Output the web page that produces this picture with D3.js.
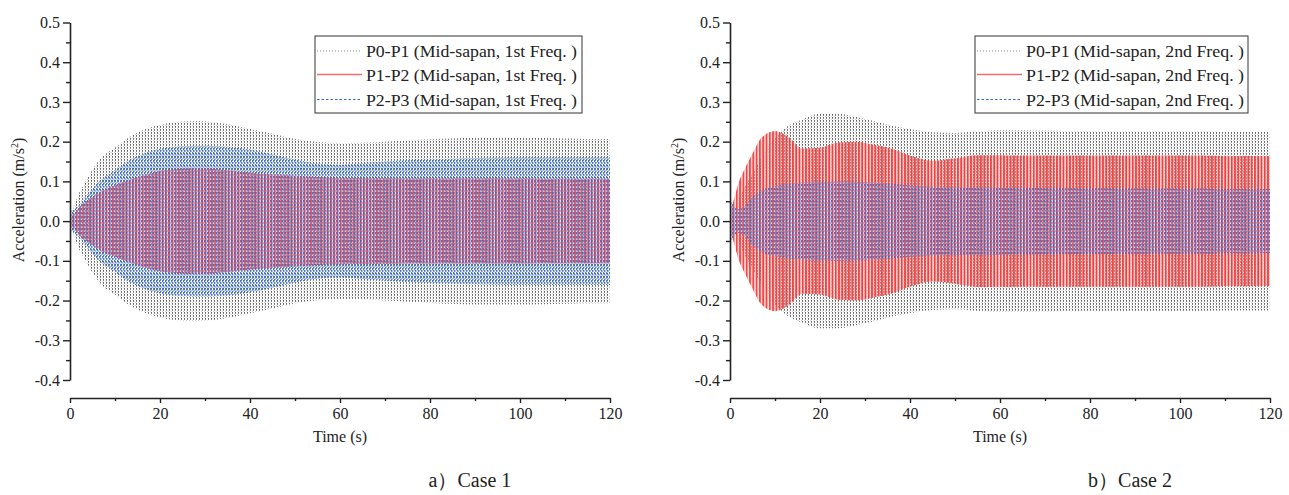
<!DOCTYPE html>
<html>
<head>
<meta charset="utf-8">
<script src="https://cdn.jsdelivr.net/npm/d3@7"></script>
<style>
  html, body { margin: 0; padding: 0; background: #fff; }
  svg { display: block; }
  text { font-family: "Liberation Serif", "DejaVu Serif", serif; fill: #222; }
</style>
</head>
<body>
<svg id="chart" width="1289" height="495"></svg>
<script>
// ---------------- DATA (envelope amplitudes, m/s^2) ----------------
const times = [0, 1, 2, 3, 5, 7, 10, 13, 16, 20, 24, 28, 32, 36, 40, 45, 50, 55, 60, 65, 70, 75, 80, 85, 90, 95, 100, 105, 110, 115, 120];

// Case 1 (1st frequency)
const case1_P0P1 = [0, 0.04, 0.07, 0.09, 0.13, 0.16, 0.185, 0.21, 0.228, 0.242, 0.25, 0.252, 0.249, 0.242, 0.232, 0.22, 0.207, 0.199, 0.196, 0.197, 0.2, 0.203, 0.206, 0.208, 0.21, 0.21, 0.21, 0.209, 0.208, 0.207, 0.207];
const case1_P1P2 = [0.01, 0.02, 0.035, 0.045, 0.061, 0.075, 0.09, 0.103, 0.114, 0.126, 0.131, 0.133, 0.131, 0.127, 0.122, 0.118, 0.114, 0.111, 0.109, 0.108, 0.108, 0.107, 0.107, 0.107, 0.107, 0.107, 0.107, 0.106, 0.106, 0.106, 0.106];
const case1_P2P3 = [0.025, 0.03, 0.04, 0.055, 0.083, 0.105, 0.128, 0.152, 0.168, 0.182, 0.188, 0.19, 0.189, 0.186, 0.18, 0.168, 0.155, 0.145, 0.142, 0.146, 0.15, 0.153, 0.155, 0.157, 0.159, 0.16, 0.161, 0.161, 0.161, 0.161, 0.161];

// Case 2 (2nd frequency)
const case2_P0P1 = [0.01, 0.03, 0.055, 0.08, 0.12, 0.16, 0.21, 0.24, 0.255, 0.27, 0.27, 0.262, 0.252, 0.24, 0.232, 0.224, 0.222, 0.226, 0.229, 0.229, 0.228, 0.227, 0.227, 0.226, 0.226, 0.226, 0.226, 0.226, 0.225, 0.225, 0.225];
const case2_P1P2 = [0.02, 0.06, 0.1, 0.125, 0.17, 0.21, 0.227, 0.212, 0.183, 0.185, 0.198, 0.2, 0.192, 0.182, 0.165, 0.152, 0.158, 0.166, 0.166, 0.165, 0.165, 0.165, 0.165, 0.165, 0.165, 0.165, 0.165, 0.165, 0.164, 0.164, 0.164];
const case2_P2P3 = [0.06, 0.035, 0.03, 0.035, 0.06, 0.078, 0.088, 0.094, 0.097, 0.1, 0.1, 0.1, 0.097, 0.094, 0.09, 0.087, 0.085, 0.085, 0.085, 0.084, 0.084, 0.083, 0.083, 0.083, 0.082, 0.082, 0.082, 0.082, 0.081, 0.081, 0.081];

// Ticks and labels
const xMajorTicks = [0, 20, 40, 60, 80, 100, 120];
const xMinorTicks = [10, 30, 50, 70, 90, 110];
const yMajorTicks = [-0.4, -0.3, -0.2, -0.1, 0.0, 0.1, 0.2, 0.3, 0.4, 0.5];
const yMinorTicks = [-0.35, -0.25, -0.15, -0.05, 0.05, 0.15, 0.25, 0.35, 0.45];
const legendCase1 = ["P0-P1 (Mid-sapan, 1st Freq. )", "P1-P2 (Mid-sapan, 1st Freq. )", "P2-P3 (Mid-sapan, 1st Freq. )"];
const legendCase2 = ["P0-P1 (Mid-sapan, 2nd Freq. )", "P1-P2 (Mid-sapan, 2nd Freq. )", "P2-P3 (Mid-sapan, 2nd Freq. )"];
const captions = ["a）Case 1", "b）Case 2"];
const xTitle = "Time (s)";

// ---------------- DRAWING ----------------
const svg = d3.select("#chart");
const defs = svg.append("defs");

// Hatch patterns that imitate the dense oscillation of each trace
function makePattern(id, w, h, build) {
  const p = defs.append("pattern").attr("id", id).attr("patternUnits", "userSpaceOnUse")
    .attr("width", w).attr("height", h);
  build(p);
}
makePattern("patBlack", 3, 3, p => {
  p.append("rect").attr("x", 1).attr("y", 0).attr("width", 1).attr("height", 1.8).attr("fill", "#222").attr("opacity", 0.7);
  p.append("rect").attr("x", 0).attr("y", 2).attr("width", 0.8).attr("height", 0.8).attr("fill", "#777").attr("opacity", 0.5);
});
makePattern("patRed", 3.3, 4, p => {
  p.append("rect").attr("x", 0).attr("y", 0).attr("width", 3.3).attr("height", 4).attr("fill", "#ffb3b3").attr("opacity", 0.45);
  p.append("rect").attr("x", 0).attr("y", 0).attr("width", 1.8).attr("height", 4).attr("fill", "#f03a3a").attr("opacity", 0.92);
});
makePattern("patBlue", 3, 4, p => {
  p.append("rect").attr("x", 0).attr("y", 0).attr("width", 1.3).attr("height", 2.3).attr("fill", "#2a6ddb").attr("opacity", 0.9);
  p.append("rect").attr("x", 1.6).attr("y", 2).attr("width", 1.2).attr("height", 2).attr("fill", "#5f93ea").attr("opacity", 0.75);
});

const panels = [
  { left: 70, right: 610, data: [case1_P0P1, case1_P1P2, case1_P2P3], legend: legendCase1,
    legendBox: [315, 36, 582, 113], caption: captions[0], ylabX: 24, textW: 211 },
  { left: 730, right: 1270, data: [case2_P0P1, case2_P1P2, case2_P2P3], legend: legendCase2,
    legendBox: [975, 36, 1248, 113], caption: captions[1], ylabX: 684, textW: 218 }
];
const fills = ["url(#patBlack)", "url(#patRed)", "url(#patBlue)"];
const yTop = 22.5, yBottom = 380, xAxisY = 398;

panels.forEach(pn => {
  const g = svg.append("g");
  const x = d3.scaleLinear().domain([0, 120]).range([pn.left, pn.right]);
  const y = d3.scaleLinear().domain([-0.4, 0.5]).range([yBottom, yTop]);

  // traces: envelope bands filled with oscillation hatching
  pn.data.forEach((arr, si) => {
    const pts = times.map((t, i) => ({ t, a: arr[i] }));
    const area = d3.area().curve(d3.curveMonotoneX)
      .x(d => x(d.t)).y0(d => y(-d.a)).y1(d => y(d.a));
    g.append("path").datum(pts).attr("d", area).attr("fill", fills[si]);
  });

  // y axis
  const yAxis = d3.axisLeft(y).tickValues(yMajorTicks).tickSize(7).tickSizeOuter(0).tickPadding(3)
    .tickFormat(d => (Math.abs(d) < 1e-9 ? 0 : d).toFixed(1));
  const ya = g.append("g").attr("transform", `translate(${pn.left},0)`).call(yAxis);
  ya.selectAll("text").style("font-size", "16px").attr("fill", "#222");
  ya.select(".domain").attr("stroke", "#222").attr("stroke-width", 1.6);
  ya.selectAll(".tick line").attr("stroke", "#222").attr("stroke-width", 1.4);
  const yMin = d3.axisLeft(y).tickValues(yMinorTicks).tickSize(4).tickSizeOuter(0).tickFormat("");
  const ym = g.append("g").attr("transform", `translate(${pn.left},0)`).call(yMin);
  ym.select(".domain").remove();
  ym.selectAll(".tick line").attr("stroke", "#222").attr("stroke-width", 1.4);

  // x axis (offset below the plot)
  const xAxis = d3.axisBottom(x).tickValues(xMajorTicks).tickSize(5).tickSizeOuter(0).tickPadding(5)
    .tickFormat(d3.format("d"));
  const xa = g.append("g").attr("transform", `translate(0,${xAxisY})`).call(xAxis);
  xa.selectAll("text").style("font-size", "16px").attr("fill", "#222");
  xa.select(".domain").attr("stroke", "#222").attr("stroke-width", 1.6);
  xa.selectAll(".tick line").attr("stroke", "#222").attr("stroke-width", 1.4);
  const xMin = d3.axisBottom(x).tickValues(xMinorTicks).tickSize(3).tickSizeOuter(0).tickFormat("");
  const xm = g.append("g").attr("transform", `translate(0,${xAxisY})`).call(xMin);
  xm.select(".domain").remove();
  xm.selectAll(".tick line").attr("stroke", "#222").attr("stroke-width", 1.4);

  // axis titles
  g.append("text").attr("x", (pn.left + pn.right) / 2).attr("y", 442).attr("text-anchor", "middle")
    .style("font-size", "16px").text(xTitle);
  const yl = g.append("text").attr("transform", `translate(${pn.ylabX},${200}) rotate(-90)`)
    .attr("text-anchor", "middle").style("font-size", "16px");
  yl.append("tspan").text("Acceleration (m/s");
  yl.append("tspan").attr("dy", -6).style("font-size", "10px").text("2");
  yl.append("tspan").attr("dy", 6).text(")");

  // legend
  const [bx0, by0, bx1, by1] = pn.legendBox;
  g.append("rect").attr("x", bx0).attr("y", by0).attr("width", bx1 - bx0).attr("height", by1 - by0)
    .attr("fill", "#fff").attr("stroke", "#333").attr("stroke-width", 1);
  const lineStyles = [
    { stroke: "#888", dash: "1,2", w: 1 },
    { stroke: "#f36b6b", dash: null, w: 1.6 },
    { stroke: "#2d6ad6", dash: "2.5,2", w: 1.2 }
  ];
  const rowY = [51, 74.5, 99.5];
  pn.legend.forEach((lab, i) => {
    const ls = lineStyles[i];
    g.append("line").attr("x1", bx0 + 2).attr("x2", bx0 + 47).attr("y1", rowY[i]).attr("y2", rowY[i])
      .attr("stroke", ls.stroke).attr("stroke-width", ls.w).attr("stroke-dasharray", ls.dash);
    g.append("text").attr("x", bx0 + 51).attr("y", rowY[i] + 6).style("font-size", "17px")
      .attr("textLength", pn.textW).attr("lengthAdjust", "spacingAndGlyphs").text(lab);
  });

  // caption
  g.append("text").attr("x", (pn.left + pn.right) / 2 + 130).attr("y", 487).attr("text-anchor", "middle")
    .style("font-size", "20px").text(pn.caption);
});
</script>
</body>
</html>
